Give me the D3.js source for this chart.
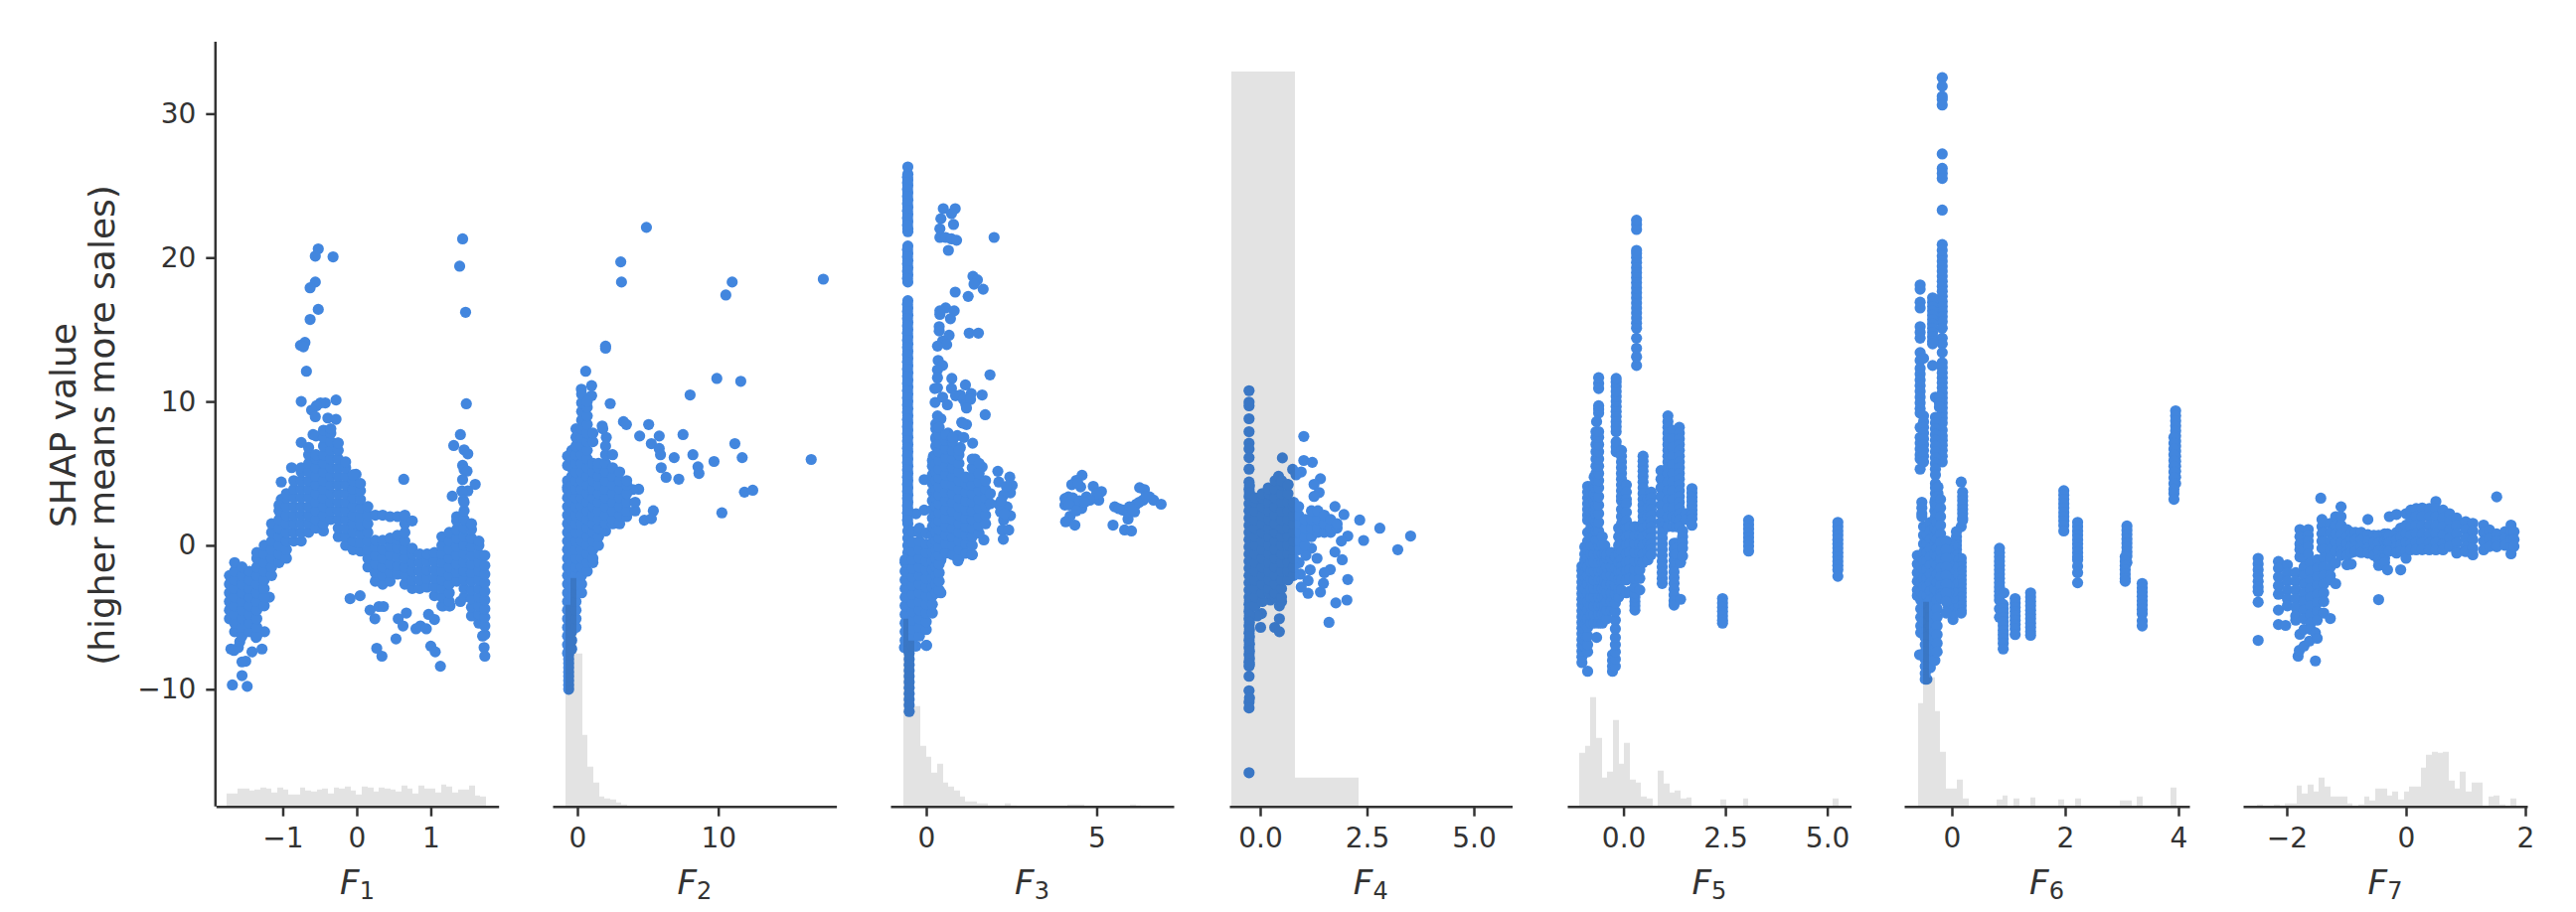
<!DOCTYPE html>
<html><head><meta charset="utf-8">
<script src="https://cdn.jsdelivr.net/npm/d3@7/dist/d3.min.js"></script>
<style>html,body{margin:0;background:#fff}svg{display:block}text{font-family:"DejaVu Sans";fill:#333}</style>
</head><body><svg id="c" width="2592" height="918"></svg>
<script>
// Each column: first number is the feature value, the rest are SHAP values read at that feature value.
const f1Columns=[
[-1.72,-5.1,-4.5,-3.9,-3.3,-2.7,-2.1],
[-1.65,-6,-5.4,-4.8,-4.2,-3.6,-3,-2.4,-1.8,-1.2],
[-1.55,-6.3,-5.7,-5.1,-4.5,-3.9,-3.3,-2.7,-2.1,-1.5],
[-1.45,-6,-5.4,-4.8,-4.2,-3.6,-3,-2.4,-1.8],
[-1.35,-6.3,-5.7,-5.1,-4.5,-3.9,-3.3,-2.7,-2.1,-1.5,-.9,-.5],
[-1.25,-4.2,-3.6,-3,-2.4,-1.8,-1.2,-.6,0],
[-1.15,-2.1,-1.5,-.9,-.3,.3,.9,1.5],
[-1.05,-1.2,-.6,0,.6,1.2,1.8,2.4,2.8],
[-.95,-.9,-.3,.3,.9,1.5,2.1,2.7,3.3,3.6],
[-.85,.3,.9,1.5,2.1,2.7,3.3,3.9,4.5],
[-.75,.3,.9,1.5,2.1,2.7,3.3,3.9,4.5,5.1,5.4],
[-.65,.9,1.5,2.1,2.7,3.3,3.9,4.5,5.1,5.7,6.3,6.8],
[-.55,1.2,1.8,2.4,3,3.6,4.2,4.8,5.4,6,6.3,7.6],
[-.45,1,1.5,2.1,2.7,3.3,3.9,4.5,5.1,5.7,6.3,6.9,7.5,8],
[-.35,1.8,2.4,3,3.6,4.2,4.8,5.4,6,6.6,7.2,7.8,8.1],
[-.25,.6,1.2,1.8,2.4,3,3.6,4.2,4.8,5.4,6,6.6,7.1],
[-.15,0,.6,1.2,1.8,2.4,3,3.6,4.2,4.8,5.4,5.8],
[-.05,-.3,.3,.9,1.5,2.1,2.7,3.3,3.9,4.5,4.9],
[.05,-.4,.2,.8,1.4,2,2.6,3.2,3.8,4.3],
[.15,-1.5,-.9,-.3,.3,.9,1.5,2.1,2.7],
[.25,-2.5,-1.9,-1.3,-.7,-.1,.35,2.1],
[.35,-2.7,-2.1,-1.5,-.9,-.3,.35,2.1],
[.45,-2.5,-1.9,-1.3,-.7,-.1,.5,2],
[.55,-2,-1.4,-.8,-.2,.4,.7,2],
[.65,-2.7,-2.1,-1.5,-.9,-.3,.3,.9,1.5,2.1],
[.75,-3,-2.4,-1.8,-1.2,-.6,-.2,1.7],
[.85,-3,-2.4,-1.8,-1.2,-.6],
[.95,-2.9,-2.3,-1.7,-1.1,-.6],
[1.05,-3.5,-2.9,-2.3,-1.7,-1.1,-.5],
[1.15,-4.2,-3.6,-3,-2.4,-1.8,-1.2,-.6,0,.6],
[1.25,-4.2,-3.9,-3.3,-2.7,-2.1,-1.5,-.9,-.3,.3,.9],
[1.35,-2.5,-1.9,-1.3,-.7,-.1,.5,1.1,1.7,2],
[1.45,-3.6,-3,-2.4,-1.8,-1.2,-.6,0,.6,1.2,1.8,2.4,3],
[1.55,-4.9,-4.3,-3.7,-3.1,-2.5,-1.9,-1.3,-.7,-.1,.5,1.1,1.5],
[1.65,-5.4,-4.8,-4.2,-3.6,-3,-2.4,-1.8,-1.2,-.6,0,.3],
[1.73,-6.2,-5.6,-5,-4.4,-3.8,-3.2,-2.6,-2,-1.4,-.7]
];
const f1Points=[[1.43,21.3],[1.39,19.4],[1.47,16.2],[1.48,9.84],[1.4,7.7],[1.31,6.94],[1.45,6.64],[1.5,6.36],[1.43,5.56],[1.45,5.26],[1.49,5.16],[1.43,4.57],[1.6,4.24],[1.5,3.78],[1.42,3.78],[1.29,3.42],[1.44,3.14],[.635,4.59],[-.52,20.6],[-.56,20.1],[-.32,20.05],[-.56,18.3],[-.63,17.9],[-.52,16.4],[-.63,15.7],[-.7,14.1],[-.76,13.9],[-.72,13.8],[-.68,12.1],[-.75,10],[-.28,10.1],[-.425,9.9],[-.49,9.9],[-.545,9.7],[-.61,9.4],[-.56,8.94],[-.39,8.85],[-.28,8.76],[-.43,7.97],[-.59,7.7],[-.75,7.15],[-.255,7.12],[-.88,5.4],[-.01,4.94],[-.18,5.76],[-1.02,4.4],[-1.02,3.2],[-.09,-3.7],[.045,-3.5],[.18,-4.5],[.245,-5.1],[.3,-4.25],[.36,-4.25],[.53,-6.5],[.56,-5.1],[.67,-4.7],[.625,-5.6],[.8,-5.8],[.86,-5.6],[.94,-5.8],[.97,-4.8],[1.05,-5.15],[1,-7],[1.06,-7.4],[1.13,-8.4],[.27,-7.15],[.34,-7.7],[-1.68,-9.7],[-1.55,-9.05],[-1.48,-9.8],[-1.5,-8.05],[-1.55,-8.1],[-1.415,-7.4],[-1.28,-7.2],[-1.7,-7.2],[-1.66,-7.3],[-1.6,-7.1],[-1.58,-6.7],[-1.245,-6],[-1.36,-6.4],[1.26,-4.2],[1.17,-4.2],[1.4,-3.9],[1.72,-7.1],[1.73,-7.7],[1.7,-6.3],[-1.18,-3.6]];
const f1Hist=[13,13,18,18,16,17,19,18,14,19,17,12,12,19,16,15,17,18,13,19,18,20,16,12,20,19,15,19,18,17,15,21,18,13,21,18,18,14,22,20,14,17,17,21,11,10];

const f2Columns=[
[-.7,-7.5,-6.9,-6.3,-5.7,-5.1,-4.5,-3.9,-3.3,-2.7,-2.1,-1.5,-.9,-.3,.3,.9,1.5,2.1,2.7,3.3,3.9],
[-.62,-10,-9.7,-9.4,-9.1,-8.8,-8.5,-8.2,-7.9,-7.6,-7.3,-7],
[-.4,-7.2,-6.6,-6,-5.4,-4.8,-4.2,-3.6,-3,-2.4,-1.8,-1.2,-.6,0,.6,1.2,1.8,2.4,3,3.6,4.2,4.8,5.4,6,6.6],
[-.1,-5.7,-5.1,-4.5,-3.9,-3.3,-2.7,-2.1,-1.5,-.9,-.3,.3,.9,1.5,2.1,2.7,3.3,3.9,4.5,5.1,5.7,6.3,6.9,7.5,8.1],
[.3,-3.3,-2.7,-2.1,-1.5,-.9,-.3,.3,.9,1.5,2.1,2.7,3.3,3.9,4.5,5.1,5.7,6.3,6.9,7.5,8.1,8.7,9.3,9.9,10.5],
[.7,-1.8,-1.2,-.6,0,.6,1.2,1.8,2.4,3,3.6,4.2,4.8,5.4,6,6.6,7.2,7.8,8.4,9,9.6,10],
[1.1,-1.2,-.9,-.3,.3,.9,1.5,2.1,2.7,3.3,3.9,4.5,5.1,5.7,7.2,7.8],
[1.5,0,.6,1.2,1.8,2.4,3,3.6,4.2,4.8,5.4,5.7],
[2,1,1.5,2.1,2.7,3.3,3.9,4.5,5.1,5.7,6.3,6.9],
[2.5,1.5,1.8,2.4,3,3.6,4.2,4.8,5.4,6.3],
[3,1.5,2.1,2.7,3.3,3.9,4.5,5.1],
[3.5,2,2.4,3,3.6,4.2,4.5],
[4.1,2.4,3]
];
const f2Points=[[4.9,22.1],[3.08,19.7],[3.13,18.3],[10.99,18.3],[10.54,17.4],[17.46,18.5],[2,13.85],[2,13.7],[.59,12.1],[1.01,11.1],[2.33,9.85],[9.9,11.6],[11.6,11.4],[8,10.45],[3.27,8.6],[3.48,8.4],[5.06,8.4],[4.42,7.6],[5.81,7.6],[7.5,7.7],[11.18,7.07],[5.25,7.07],[5.81,6.73],[5.9,6.3],[6.87,6.1],[8.2,6.3],[9.7,5.83],[11.7,6.1],[16.6,5.97],[8.56,5.46],[8.63,5],[5.95,5.4],[6.3,4.73],[7.2,4.6],[11.86,3.7],[12.45,3.83],[5.39,2.4],[10.26,2.26],[4.35,3.9],[3.93,3.88],[4.75,1.75],[5.25,1.85],[1.76,8.3],[1.8,8.1],[2.05,7.5],[-.7,6.2],[-.7,5.55],[-.7,4.5],[-.7,4.06],[1.01,10.4],[.28,10.85]];
const f2Hist=[203,230,154,72,40,24,10,8,7,4,2];

const f3Columns=[
[-.54,26.3,25.8,25.4,25,24.5,24,23.5,23,22.5,22,21.8,20.8,20.3,19.8,19.3,18.8,18.3,17,16.5,16,15.5,15,14.5,14,13.5,13,12.5,12,11.5,11,10.5,10,9.5,9,8.5,8,7.5,7,6.5,6,5.5,5,4.5,4,3.5,3,2.5,2,1.5,1,.5,0,-.5,-1,-1.5,-2,-2.5,-3,-3.5,-4,-4.5,-5,-5.5,-6,-6.5,-7],
[-.55,25.6,25.2,24.75,24.25,23.75,23.25,22.75,22.25,20.55,20.05,19.55,19.05,18.55,16.75,16.25,15.75,15.25,14.75,14.25,13.75,13.25,12.75,12.25,11.75,11.25,10.75,10.25,9.75,9.25,8.75,8.25,7.75,7.25,6.75,6.25,5.75,5.25,4.75,4.25,3.75,3.25,2.75,2.25,1.75],
[-.5,-7.5,-7.9,-8.3,-8.7,-9.1,-9.5,-9.9,-10.3,-10.7,-11.1,-11.55],
[-.62,-7.1,-6.6,-6,-5.4,-4.8,-4.2,-3.6,-3,-2.4,-1.8,-1.2,-1],
[-.4,-7,-6.4,-5.8,-5.2,-4.6,-4,-3.4,-2.8,-2.2,-1.6,-1,-.4,.2,.95],
[-.2,-6.3,-5.7,-5.1,-4.5,-3.9,-3.3,-2.7,-2.1,-1.5,-.9,-.3,.3,.9,1.2],
[0,-6.95,-5.85,-5.3,-4.7,-4.1,-3.5,-2.9,-2.3,-1.7,-1.1,-.5,.1,.85],
[.18,-4.7,-4.1,-3.5,-2.9,-2.3,-1.7,-1.1,-.5,.1,.7,1.3,1.9,2.5,3.1,3.7,4.3,4.9,5.5,5.9],
[.28,-3.3,-2.7,-2.1,-1.5,-.9,-.3,.3,.9,1.5,2.1,2.7,3.3,3.9,4.5,5.1,5.7,6.3,6.9,7.5,8.1],
[.38,-3.1,-2.5,-1.9,-1.3,-.7,-.1,.5,1.1,1.7,2.3,2.9,3.5,4.1,4.7,5.3,5.9,6.5,7.1,7.7,8.2],
[.57,-.55,.1,.7,1.3,1.9,2.5,3.1,3.7,4.3,4.9,5.5,6.1,6.7,7.3,7.7],
[.77,-.65,0,.6,1.2,1.8,2.4,3,3.6,4.2,4.8,5.4,6,6.6,7.2,7.5],
[.96,-.9,-.3,.3,.9,1.5,2.1,2.7,3.3,3.9,4.5,5.1,5.7,6.3,6.6],
[1.16,-.55,.1,.7,1.3,1.9,2.5,3.1,3.7,4.3,4.75],
[1.35,-.65,0,.6,1.2,1.8,2.4,3,3.6,4.2,4.8,5.4,6],
[1.55,.85,1.4,2,2.6,3.2,3.8,4.4,5,5.7],
[1.74,1.5,2.1,2.7,3.3,3.9,4.5],
[1.88,2.9,3.6]
];
const f3Points=[[.5,23.4],[.85,23.4],[.74,23.05],[.43,22.7],[.8,22.3],[.4,22],[.4,21.4],[.57,21.4],[.74,21.3],[.89,21.2],[1.99,21.4],[.65,20.5],[1.37,18.7],[1.5,18.45],[1.4,18.15],[1.67,17.8],[.85,17.6],[1.23,17.3],[.57,16.5],[.82,16.3],[.4,16.3],[.4,16.05],[.71,15.75],[.38,15.2],[.38,14.9],[.67,14.6],[1.26,14.75],[1.53,14.75],[.48,14.2],[.6,13.95],[.33,13.85],[.35,12.85],[.48,12.5],[.33,12.2],[.33,11.65],[.33,10.95],[.25,10.9],[.75,11.6],[1.87,11.85],[1.15,11.15],[.74,10.9],[1.32,10.55],[1.64,10.45],[.86,10.4],[1,10.45],[1.09,10.15],[1.16,9.8],[1.3,10.15],[1.18,9.54],[.26,9.93],[.48,10.3],[.62,9.77],[1.73,9.08],[1.04,8.55],[1.18,8.4],[.33,9],[.43,8.8],[.28,8.44],[.3,8.1],[1.36,7.1],[.64,7.8],[.91,7.63],[1.1,7.5],[1,6.8],[.28,7.4],[.21,6.2],[1.06,8.5],[1.43,6],[1.64,5.45],[-.06,4.57],[-.3,2.2],[-.06,2.45],[-.64,-7.1],[-.3,-7],[.01,-6.95],[.43,-3.3],[1.69,.38],[1.35,-.65],[.93,-1.07],[.72,-.55],[.43,-1],
[2.1,5.15],[2.45,4.75],[2.52,4.17],[2.13,4.4],[2.47,3.65],[2.27,3.5],[2.13,2.86],[2.37,2.68],[2.47,2.06],[2.27,1.76],[2.23,1.07],[2.42,1.07],[2.26,.42],[2.18,2.33],[2.35,4.1],[2.2,3.1],[2.3,2.2],
[4.57,4.87],[4.4,4.52],[4.27,4.22],[4.53,4.06],[4.45,4.3],[4.9,4.1],[5.14,3.74],[5.06,3.14],[5,3.6],[4.7,3.37],[4.17,3.37],[4.07,2.8],[4.31,2.8],[4.56,2.56],[4.8,3.14],[4.22,2.03],[4.09,1.64],[4.36,1.41],[4.07,3.25],[4.3,3.3],[4.5,3.1],[4.2,2.8],[4.4,2.4],[4.65,3],
[5.53,2.68],[5.48,1.41],[5.82,1.07],[6.02,1],[5.92,1.83],[5.77,2.45],[5.96,2.68],[6.16,2.86],[6.36,3.14],[6.26,4.01],[6.4,3.88],[6.55,3.37],[6.67,3.14],[6.89,2.86],[6.11,2.33],[5.9,2.3],[6.05,2.5],[6.25,3],[6.45,3.4],[5.65,2.55]];
const f3Hist=[189,167,101,61,50,34,43,24,20,16,10,5,5,3,3,1,1,1,3,1,0,0,0,0,0,0,0,0,0,2,2,2,0,0,0,0,0,0,0,0,2,1];

const f4Columns=[
[-.26,10.75,9.95,9.7,8.8,7.9,7.1,6.7,6.1,5.3,4.4,3.9,3.4,2.9,2.4,1.9,1.4,.9,.4,-.1,-.6,-1.1,-1.6,-2.1,-2.6,-3.1,-3.6,-4.1,-4.6,-5.1,-5.6,-6.1,-6.6,-7.1,-7.6,-8.1,-8.4,-9.1,-10.1,-10.9,-11.3,-15.8],
[-.25,4.15,3.65,-3.85,-4.35,-4.85,-5.35,-5.85,-6.35,-6.85,-7.35,-7.85,-8.25,-10.6],
[-.12,-4.2,-3.6,-3,-2.4,-1.8,-1.2,-.6,0,.6,1.2,1.8,2.4,3,3.3],
[.05,-3.9,-3.3,-2.7,-2.1,-1.5,-.9,-.3,.3,.9,1.5,2.1,2.7,3.3,3.6],
[.2,-3.3,-3,-2.4,-1.8,-1.2,-.6,0,.6,1.2,1.8,2.4,3,3.6,3.9],
[.35,-3.6,-3.3,-2.7,-2.1,-1.5,-.9,-.3,.3,.9,1.5,2.1,2.7,3.3,3.9,4.5],
[.5,-3.9,-3.6,-3,-2.4,-1.8,-1.2,-.6,0,.6,1.2,1.8,2.4,3,3.6,4.2,4.5],
[.65,-2.4,-1.8,-1.2,-.6,0,.6,1.2,1.8,2.4,3,3.6,4.2],
[.78,-2.1,-1.5,-.9,-.3,.3,.9,1.5,2.1,2.7,3],
[.9,-.3,.3,.9,1.5,2.1,2.7],
[1.05,0,.6,1.2,1.8],
[1.2,.6,1.2,1.8,2.4],
[1.35,.9,1.2,1.8,2.4],
[1.5,.9,1.5,2.1],
[1.65,.9,1.2,1.8],
[1.8,1.2,1.5]
];
const f4Points=[[.52,6.08],[.76,5.28],[.43,4.8],[.19,4],[.65,4.24],[1.02,7.57],[1.02,5.9],[1.22,5.77],[.96,5.1],[.84,4.9],[1.41,4.63],[1.26,4.24],[1.38,3.67],[1.26,3.4],[.03,-4.74],[-.07,-4.9],[.01,-5.7],[.34,-5.7],[.45,-6],[.45,-5.1],[.45,-4.2],[.24,-3.8],[1.75,2.7],[1.96,2.14],[2.33,1.76],[2.8,1.19],[3.52,.65],[3.22,-.3],[2.42,.34],[2.05,.65],[1.9,.3],[1.75,-.46],[1.92,-1],[2.05,-2.37],[2.03,-3.8],[1.77,-4],[1.61,-5.35],[1.41,-3.25],[1.48,-2.64],[1.64,-1.68],[1.5,-1.9],[1.33,-.9],[1.2,-.2],[1.12,-2.45],[1.12,-3.33],[.96,-2.9],[.94,-2],[1.17,-1.7],[.91,-1.2],[1.07,-.7]];
const f4Hist=[740,29];

const f5Columns=[
[-1.02,-8.15,-7.75,-7.35,-6.95,-6.55,-6.15,-5.75,-5.35,-4.95,-4.55,-4.15,-3.75,-3.35,-2.95,-2.55,-2.15,-1.75,-1.45],
[-.95,-7,-6.6,-6.2,-5.8,-5.4,-5,-4.6,-4.2,-3.8,-3.4,-3,-2.6,-2.2,-1.8,-1.4,-1,-.6,-.1],
[-.88,-8.75,-7.4,-6.9,-6.3,-5.7,-5.1,-4.5,-3.9,-3.3,-2.7,-2.1,-1.5,-.9,-.3,.3,.9,1.75,2.1,2.5,2.9,3.3,3.7,4.1],
[-.8,-5.4,-4.8,-4.2,-3.6,-3,-2.4,-1.8,-1.2,-.6,0,.6,1.2,1.8,2.4,3,3.6,4.1],
[-.72,-5.4,-4.8,-4.2,-3.6,-3,-2.4,-1.8,-1.2,-.6,0,.6,1.2,1.8,2.4,3,3.6,4.1,4.75],
[-.675,.4,1,1.6,2.2,2.8,3.4,4,4.5,5,5.5,6,6.5,7,7.5,7.9],
[-.61,-5.4,-4.8,-4.2,-3.6,-3,-2.4,-1.8,-1.2,-.6,0,.4,1,1.6,2.2,2.8,3.4,4,4.5,5,5.5,6,6.5,7,7.5,7.9,9.2,9.45,9.7,10.9,11.25,11.65],
[-.66,8.6,-6.4],
[-.52,-5.4,-4.8,-4.2,-3.6,-3,-2.4,-1.8,-1.2,-.6,0,.6],
[-.46,-4.8,-4.2,-3.6,-3,-2.4,-1.8,-1.2,-.6,0],
[-.41,-5.1,-4.5,-3.9,-3.3,-2.7,-2.1,-1.5,-.9,-.65],
[-.3,-4.5,-3.9,-3.3,-2.7,-2.1,-1.5,-.9,-.5],
[-.27,-8.75,-8.4,-8,-7.6],
[-.2,-8.4,-7.9,-7.4,-6.9,-6.4,-5.8,-5.2,-4.6,-4,-3.4,-2.8,-2.2,-1.6,-.8],
[-.18,6.5,6.85,7.2,7.9,8.25,8.6,8.95,9.3,9.65,10,10.35,10.7,11.05,11.35,11.6],
[-.12,-3.6,-3,-2.4,-1.8,-1.2,-.6,0,.6,1.2],
[-.05,6.6,6.2,5.8,5.4,5,4.6,4.2,3.8,3.4,3.1,2.5,2,1.5,1,.5,0,-.5,-1,-1.5,-1.9,-2.4,-3.1],
[.07,4.2,3.7,3.2,2.9,2.3,1.7,1.2,.6,0,-.6,-1.2,-1.8,-2.4,-3.3],
[.15,1.3,.7,.1,-.5,-1.1,-1.7,-2.3,-3.2],
[.28,-4.5,-4.2,-3.9,-3.6,-3.3,-2.9,-2.3,-1.7,-1.1,-.5,.1,.7,1.3],
[.32,12.5,13.1,13.7,14.4,15.1,15.45,15.8,16.15,16.5,16.85,17.2,17.55,17.9,18.25,18.6,18.95,19.3,19.65,20,20.3,20.5,21.95,22.3,22.6],
[.4,-3.1,-2.3,-1.7,-1.1,-.5,.1,.7,1.3],
[.48,6.2,5.85,5.5,5.15,4.8,4.4,4,3.6,3.2,2.8,2.4,2,1.6,1.2,.6,0,-.6,-1.2],
[.6,3.2,2.6,2,1.4,.8,.2,-.4,-1],
[.68,3.7,3.3,2.9,2.5,2.1,1.7,1.3,.9,.5,.1,-.3,-.65],
[.92,5.2,4.6,4,3.4,2.8,2.2,1.6],
[.95,1.3,.9,.5,.1,-.3,-.7,-1.1,-1.5,-1.9,-2.3,-2.65],
[1.09,9,8.6,8.2,7.8,7.4,7,6.6,6.2,5.8,5.4,5,4.4,3.8,3.2,2.6,2,1.3],
[1.21,8,7.4,6.8,6.2,5.6,5,4.4,3.8,3.2,2.6,2,1.3],
[1.24,.15,-.25,-.65,-1.05,-1.45,-1.85,-2.25,-2.65,-3.05,-3.45,-3.85,-4.15],
[1.3,.15,-.2,-.6,1.3,1.9],
[1.37,8.2,7.8,7.4,7,6.6,6.2,5.8,5.4,5,4.6,4.2,3.8,3.4,3,2.6,2.2,1.8,1.3],
[1.4,-3.75,-1.2],
[1.45,1,.6,.2,-.2,-.75],
[1.53,2.2,1.8],
[1.68,3.95,3.65,3.35,3.05,2.75,2.45,2.15,1.85,1.4],
[2.43,-3.7,-4,-4.3,-4.6,-4.9,-5.2,-5.4],
[3.07,1.75,1.45,1.15,.85,.55,.25,-.05,-.4],
[5.26,1.6,1.3,1,.7,.4,.1,-.2,-.5,-.8,-1.1,-1.4,-1.7,-2.15]
];
const f5Hist=[54,61,110,69,29,35,87,43,64,27,24,10,8,0,36,23,14,16,8,9,0,0,0,0,0,7,0,0,0,8,0,0,0,0,0,0,0,0,0,0,0,0,0,0,0,8];

const f6Columns=[
[-.17,32.5,31.9,31.2,31,30.6,27.2,26.2,25.85,25.5,23.3,20.9,20.5,20.1,19.75,19.4,19.05,18.7,18.35,18,17.65,17.3,16.95,16.6,16.25,15.9,15.55,15.1,14.4,14,13.4,12.7,12.35,12,11.65,11.3,10.95,10.6,10.25,9.9,9.55,9.2,8.85,8.5,8,7.6,7.3,6.95,6.6,6.2,5.8],
[-.56,18.1,17.8,16.9,16.5,15.2,14.8,14.4,13.4,12.85,12.3,11.9,11.5,11.1,10.7,10.3,9.9,9.5,9.2,8.2,7.5,7.1,6.7,6.3,6,5.3],
[-.5,13,9,8.6,8.2,7.8,7.4,7,6.6,6.2,5.8],
[-.34,17.2,16.9,16.6,16.3,16,15.7,15.4,15.1,14.8,14.5,14.2,14,12.5],
[-.29,10.3,8.9,8.5,8.1,7.7,7.3,6.9,6.5,6.1,5.7,5.3,4.9,4.3,4,3.6,3.2,2.8,2.4,2,1.6],
[-.245,4.06,3.6,3.2,2.8,2.4,2],
[-.22,10.3,9.9,9.6],
[.165,4.4,1.3],
[.19,3.7,3.4,3.1,2.8,2.5,2.2,1.9,1.75],
[.08,.95,.6,.3,0,-.3,-.6,-.9,-1.2],
[.165,-.9,-1.2,-1.5,-1.8,-2.1,-2.4,-2.7,-3,-3.3,-3.6,-3.9,-4.2,-4.5,-4.7],
[.02,-5.15,-4.7,-4.2,-3.7,-3.2,-2.6,-2,-1.4,-.8,-.4,0],
[-.06,.2,-.3,-.8,-1.3,-1.8,-2.3,-2.8,-3.3,-3.8,-4.3],
[-.53,3,2.6,2.2,2],
[-.61,-.7,-1.3,-1.9,-2.5,-3.1,-3.5],
[-.55,-.8,-1.4,-2,-2.6,-3.2,-3.8,-4.4,-5,-5.6,-6.07],
[-.5,1.3,.7,.1,-.5,-1.1,-1.7,-2.3,-2.9,-3.5,-4.1,-4.7,-5.3,-6.1],
[-.44,1.3,.7,.1,-.5,-1.1,-1.7,-2.3,-2.9,-3.5,-4.1,-4.7,-5.3,-5.9,-6.5,-7.1,-7.7,-8,-8.5,-9.3],
[-.38,1.6,1,.4,-.2,-.8,-1.4,-2,-2.6,-3.2,-3.8,-4.4,-5,-5.6,-6.2,-6.8,-7.4,-8,-8.5],
[-.3,3,2.4,1.8,1.2,.6,0,-.6,-1.2,-1.8,-2.4,-3,-3.6,-4.2,-4.8,-5.4,-6,-6.6,-7.2,-8],
[-.26,4,3.4,2.8,2.2,1.6,1,.4,-.2,-.8,-1.4,-2,-2.6,-3.2,-3.8,-4.4,-5,-5.6,-6.2,-6.8,-7.4],
[-.47,-6.4,-6.9,-7.4,-7.9,-8.4,-8.9,-9.3],
[-.57,-7.6],
[-.2,3.2,2.6,2,1.4,.8,.2,-.4,-1,-1.6,-2.2,-2.8,-3.4,-3.6],
[-.1,.3,-.3,-.9,-1.5,-2.1,-2.7,-3.3,-3.9,-4.7],
[.84,-.2,-.5,-.8,-1.1,-1.4,-1.7,-2,-2.3,-2.6,-2.9,-3.2,-3.5,-3.8,-4.4,-5],
[.92,-3.3],
[.906,-4.1,-4.4,-4.7,-5,-5.3,-5.6,-5.9,-6.2,-6.5,-6.8,-7.2],
[1.117,-3.7,-4,-4.3,-4.6,-4.9,-5.2,-5.5,-5.8,-6.2],
[1.39,-3.3,-3.6,-3.9,-4.2,-4.5,-4.8,-5.1,-5.4,-5.7,-6,-6.25],
[1.976,3.8,3.5,3.2,2.9,2.6,2.3,2,1.7,1.4,1],
[2.22,1.6,1.3,1,.7,.4,.1,-.2,-.5,-.8,-1,-1.45,-1.9,-2.6],
[3.09,1.35,1.05,.75,.45,.15,-.15,-.45,-.75,-1.2],
[3.06,-.8,-1.1,-1.4,-1.7,-2,-2.3,-2.5],
[3.36,-2.65,-2.95,-3.25,-3.55,-3.85,-4.15,-4.45,-4.75,-5.25,-5.6],
[3.95,9.35,9,8.65,8.3,7.95,7.6,7.25,6.9,6.55,6.2,5.85,5.5,5.15,4.75,4.3],
[3.92,7.5,7.1,6.7,6.3,5.9,5.5,5.1,4.7,4.3,3.9,3.6,3.2]
];
const f6Hist=[104,206,130,96,55,18,18,27,8,0,0,0,0,0,7,11,0,8,0,0,9,0,0,0,0,7,0,0,8,0,0,0,0,0,0,0,6,6,0,10,0,0,0,0,0,19];

const f7Columns=[
[-2.48,-.9,-1.3,-1.7,-2.1,-2.5,-2.9,-3.2,-3.95,-6.6],
[-2.14,-1.12,-1.6,-2.2,-2.8,-3.4,-4.5,-5.5],
[-2.02,-5.56],
[-1.99,-1.35,-1.9,-2.5,-3.1,-3.7,-4.2],
[-1.85,-1.9,-2.5,-3.1,-3.7,-4.3,-4.9,-5.2],
[-1.81,-7.7],
[-1.79,-7.3],
[-1.78,-6.18,1.1,.6,.1,-.3,-.8],
[-1.71,-.31,-.9,-1.5,-2.1,-2.7,-3.3,-3.9,-4.5,-5.1,-5.84,-7],
[-1.64,1.1,.7,.3,-.1,-.6],
[-1.62,-6.65],
[-1.6,-1.2,-1.8,-2.4,-3,-3.6,-4.2,-4.8,-5.4,-5.84],
[-1.52,-8.03,-6.07],
[-1.49,-1,-1.6,-2.2,-2.8,-3.4,-4,-4.6,-5.2,-6.46],
[-1.43,3.28],
[-1.41,1.8,1.3,.8,.3,-.2],
[-1.38,1.53,.9,.3,-.3,-.9,-1.5,-2.1,-2.7,-3.3,-3.9,-4.7],
[-1.27,1.53,.9,.3,-.3,-.9,-1.5,-2.1,-2.4,-5.08],
[-1.18,-2.66,2,1.4,.8,.2,-.4,-1.23],
[-1.09,2.68,2,1.4,.8,.2,-.4,-.7],
[-.99,-1.35,1.1,.6,.1,-.4,-.7],
[-.92,-1.3,.9,.4,-.1,-.5],
[-.85,.9,.4,-.1,-.42],
[-.75,.9,.4,-.1,-.5],
[-.64,1.8,.75,.3,-.2,-.55],
[-.54,.7,.2,-.3,-.7],
[-.46,.7,.2,-.4,-1,-1.4,-3.77],
[-.36,.8,.3,-.3,-.9,-1.2],
[-.31,.8,.3,-.3,-1.7],
[-.28,2,.7,.2,-.4],
[-.16,2.15,.9,.4,-.1,-.54],
[-.09,1.2,.6,0,-.4,-1.7],
[0,2.2,1.4,.8,.2,-.4,-.9],
[.08,2.45,1.9,1.3,.7,.1,-.31],
[.17,2.56,2,1.4,.8,.2,-.31],
[.27,2.6,2,1.4,.8,.2,-.3],
[.39,2.56,2,1.4,.8,.2,-.31],
[.5,3.05,2.56,2,1.4,.8,.2,-.31],
[.62,2.45,1.9,1.3,.7,.1,-.31],
[.73,2.2,1.7,1.1,.5,-.08],
[.85,1.9,1.4,.8,.2,-.4,-.54],
[1,1.64,1.1,.5,-.1,-.43],
[1.12,1.53,1,.4,-.2,-.66],
[1.3,1.41,.9,.3,-.31],
[1.4,1.07,.5,-.08],
[1.52,3.37,.8,.3,-.1],
[1.66,.95,.5,0],
[1.76,1.41,.9,.4,-.1,-.59],
[1.81,.95,.4,-.08]
];
const f7Hist=[2,0,0,2,1,3,3,21,13,22,15,29,20,10,10,10,3,0,2,10,6,18,18,11,15,7,15,20,20,39,52,55,54,55,26,18,35,15,24,24,0,10,11,2,0,8];

const xEdges=[[-1.758,1.745],[-.865,3.54],[-.68,6.31],[-.674,2.3],[-1.09,5.28],[-.6,3.96],[-2.5,1.85]];
const xDomains=[[-1.902,1.916],[-1.764,18.39],[-1.05,7.26],[-.721,5.895],[-1.38,5.585],[-.842,4.193],[-2.733,2.033]];
const xRanges=[[217.3,501.7],[556,841.6],[896,1181],[1237,1521.5],[1577,1862.6],[1916,2203],[2257,2543]];
const xTicks=[[-1,0,1],[0,10],[0,5],[0,2.5,5],[0,2.5,5],[0,2,4],[-2,0,2]];
const tickFormats=["d","d","d",".1f",".1f","d","d"];
const yDomain=[-18.14,34.93], yTicks=[-10,0,10,20,30];
const subscripts=["1","2","3","4","5","6","7"];
const pointSets=[f1Points,f2Points,f3Points,f4Points,[],[],[]];
const columnSets=[f1Columns,f2Columns,f3Columns,f4Columns,f5Columns,f6Columns,f7Columns];
const histSets=[f1Hist,f2Hist,f3Hist,f4Hist,f5Hist,f6Hist,f7Hist];

const svg=d3.select("#c"), ink="#333", blue="#4286de", base=811.7, spineTop=42;
const y=d3.scaleLinear().domain(yDomain).range([base,43]);
const yH=d3.scaleLinear().domain([0,740]).range([base,72]);

xRanges.forEach((range,i)=>{
  const x=d3.scaleLinear().domain(xDomains[i]).range(range);
  const g=svg.append("g");
  const pts=[...pointSets[i].map(d=>({x:d[0],y:d[1]}))];
  columnSets[i].forEach(c=>c.slice(1).forEach(v=>pts.push({x:c[0],y:v})));
  g.selectAll("circle").data(pts).join("circle")
    .attr("cx",d=>x(d.x)).attr("cy",d=>y(d.y)).attr("r",5.6).attr("fill",blue);
  const h=histSets[i], e=xEdges[i], w=(e[1]-e[0])/h.length;
  const hx=d3.scaleLinear().domain(e).range([x(e[0]),x(e[1])]);
  g.selectAll("rect").data(h).join("rect")
    .attr("x",(d,k)=>Math.round(hx(e[0]+k*w))).attr("width",(d,k)=>Math.round(hx(e[0]+(k+1)*w))-Math.round(hx(e[0]+k*w)))
    .attr("y",d=>yH(d)).attr("height",d=>base-yH(d)).attr("fill","#000").attr("fill-opacity",.11);
  const ax=g.append("g").attr("transform",`translate(0,${base})`)
    .call(d3.axisBottom(x).tickValues(xTicks[i]).tickFormat(d3.format(tickFormats[i])).tickSize(10).tickPadding(11).tickSizeOuter(0));
  ax.select(".domain").attr("stroke",ink).attr("stroke-width",2.5);
  ax.selectAll("line").attr("stroke",ink).attr("stroke-width",2.5);
  ax.selectAll("text").attr("font-size",28).attr("font-family","DejaVu Sans").attr("fill",ink);
  const t=g.append("text").attr("x",(range[0]+range[1])/2).attr("y",900).attr("text-anchor","middle");
  t.append("tspan").attr("font-size",34).attr("font-style","italic").text("F");
  t.append("tspan").attr("font-size",24).attr("dy",5).text(subscripts[i]);
});

const ay=svg.append("g").attr("transform","translate(217.3,0)")
  .call(d3.axisLeft(y).tickValues(yTicks).tickSize(10).tickPadding(10).tickSizeOuter(0));
ay.select(".domain").attr("stroke",ink).attr("stroke-width",2.5).attr("d",`M-0.5,${base}V${spineTop}`);
ay.selectAll("line").attr("stroke",ink).attr("stroke-width",2.5);
ay.selectAll("text").attr("font-size",28).attr("font-family","DejaVu Sans").attr("fill",ink);

svg.append("text").attr("transform","translate(76,428) rotate(-90)").attr("text-anchor","middle").attr("font-size",36).text("SHAP value");
svg.append("text").attr("transform","translate(115,428) rotate(-90)").attr("text-anchor","middle").attr("font-size",36).text("(higher means more sales)");
</script></body></html>
